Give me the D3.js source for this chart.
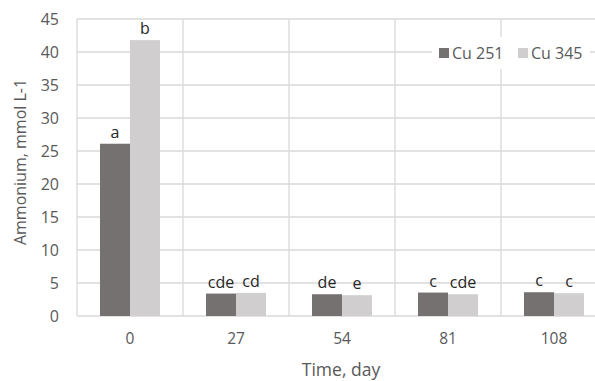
<!DOCTYPE html>
<html><head><meta charset="utf-8">
<script src="https://cdn.jsdelivr.net/npm/d3@7"></script>
<style>body{margin:0;background:#fff;}svg{display:block;font-family:"Open Sans",sans-serif;}</style>
</head><body>
<svg id="c" width="595" height="381"></svg>
<script>
const categories = ["0","27","54","81","108"];
const seriesNames = ["Cu 251","Cu 345"];
const cu251 = [26.1, 3.4, 3.3, 3.55, 3.6];
const cu345 = [41.8, 3.5, 3.15, 3.3, 3.45];
const labels251 = ["a","cde","de","c","c"];
const labels345 = ["b","cd","e","cde","c"];
const yTicks = [0,5,10,15,20,25,30,35,40,45];
const colors = ["#767171","#d0cece"];

(function(){
const svg = d3.select("#c");
const pL = 77, pR = 607, pT = 19, pB = 316;
const x = d3.scaleBand().domain(categories).range([pL, pR]).paddingInner(0).paddingOuter(0);
const xs = d3.scaleBand().domain(seriesNames).range([0, x.bandwidth()]).paddingInner(0).paddingOuter(0.767);
const y = d3.scaleLinear().domain([0,45]).range([pB, pT]);

// gridlines
svg.append("g").selectAll("line").data(yTicks).join("line")
  .attr("x1", pL).attr("x2", pR).attr("y1", d=>y(d)).attr("y2", d=>y(d))
  .attr("stroke", "#d9d9d9").attr("stroke-width", 1.3);
svg.append("g").selectAll("line").data(categories.concat(["end"])).join("line")
  .attr("x1", (d,i)=> pL + i*x.bandwidth()).attr("x2", (d,i)=> pL + i*x.bandwidth())
  .attr("y1", pT).attr("y2", pB)
  .attr("stroke", "#d9d9d9").attr("stroke-width", 1.3);

// y axis tick labels
const yAxis = d3.axisLeft(y).tickValues(yTicks).tickSize(0).tickPadding(0);
const ya = svg.append("g").attr("transform", `translate(${pL-18},0)`).call(yAxis);
ya.select(".domain").remove();
ya.selectAll("text").attr("font-size", 16).attr("fill", "#595959").attr("font-family", "Open Sans");

// x axis tick labels
const xAxis = d3.axisBottom(x).tickSize(0).tickPadding(0);
const xa = svg.append("g").attr("transform", `translate(0,${pB+17})`).call(xAxis);
xa.select(".domain").remove();
xa.selectAll("text").attr("font-size", 15.5).attr("fill", "#595959").attr("font-family", "Open Sans");

// bars
const data = categories.map((c,i)=>({c, vals:[cu251[i], cu345[i]], labs:[labels251[i], labels345[i]]}));
const g = svg.append("g").selectAll("g").data(data).join("g").attr("transform", d=>`translate(${x(d.c)},0)`);
g.selectAll("rect").data(d=>d.vals.map((v,j)=>({s:seriesNames[j], v, j}))).join("rect")
  .attr("x", d=>xs(d.s)).attr("width", xs.bandwidth())
  .attr("y", d=>y(d.v)).attr("height", d=>y(0)-y(d.v))
  .attr("fill", d=>colors[d.j]);
g.selectAll("text").data(d=>d.vals.map((v,j)=>({s:seriesNames[j], v, l:d.labs[j]}))).join("text")
  .attr("x", d=>xs(d.s)+xs.bandwidth()/2).attr("y", d=>y(d.v)-6)
  .attr("text-anchor", "middle").attr("font-size", 16).attr("fill", "#262626")
  .text(d=>d.l);

// axis titles
svg.append("text").attr("transform", `translate(26,${162}) rotate(-90)`)
  .attr("text-anchor", "middle").attr("font-size", 16).attr("fill", "#595959").text("Ammonium, mmol L-1");
svg.append("text").attr("x", 341).attr("y", 376)
  .attr("text-anchor", "middle").attr("font-size", 17.5).attr("fill", "#595959").text("Time, day");

// legend
const lg = svg.append("g");
lg.append("rect").attr("x", 432).attr("y", 37).attr("width", 158).attr("height", 32).attr("fill", "#fff");
const items = [{n:seriesNames[0], c:colors[0], x:439},{n:seriesNames[1], c:colors[1], x:518}];
items.forEach(it=>{
  lg.append("rect").attr("x", it.x).attr("y", 48).attr("width", 10).attr("height", 10).attr("fill", it.c);
  lg.append("text").attr("x", it.x+13).attr("y", 59).attr("font-size", 16).attr("fill", "#595959").text(it.n);
});
})();
</script>
</body></html>
